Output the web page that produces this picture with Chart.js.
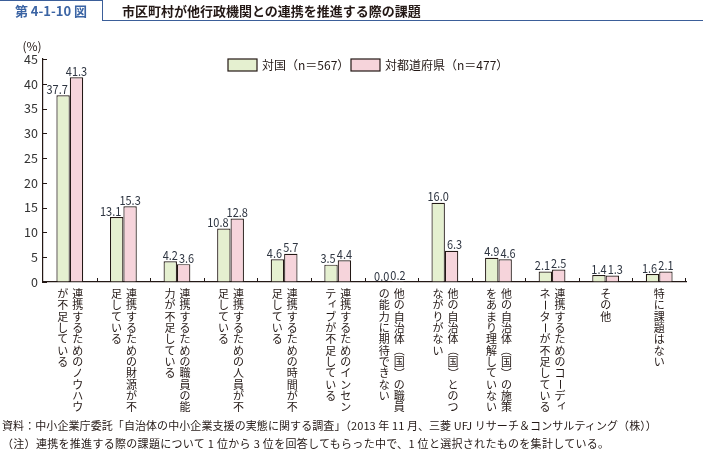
<!DOCTYPE html>
<html>
<head>
<meta charset="utf-8">
<script src="https://cdn.jsdelivr.net/npm/chart.js@4"></script>
<style>
  body { margin: 0; background: #fff; }
  #wrap { position: relative; width: 703px; height: 450px; overflow: hidden; font-family: "Noto Sans CJK JP", "Noto Sans", sans-serif; color: #231815; }
  #chart { position: absolute; left: 0; top: 0; }
  .figno { position: absolute; left: 0; top: 0; width: 103px; height: 21px; border-top: 1.5px solid #3b5e99; border-right: 1.5px solid #3b5e99; box-sizing: border-box; color: #3b64a4; font-weight: bold; font-size: 13px; line-height: 20px; text-align: center; }
  .rule { position: absolute; left: 102px; top: 20px; width: 601px; border-top: 1.5px solid #3b5e99; }
  .title { position: absolute; left: 122px; top: 2px; font-weight: bold; font-size: 13px; line-height: 18px; color: #231815; }
  .note { position: absolute; left: 2px; font-size: 11px; line-height: 16px; white-space: nowrap; }
</style>
</head>
<body>
<div id="wrap">
  <canvas id="chart" width="703" height="450"></canvas>
  <div class="figno">第 4-1-10 図</div>
  <div class="rule"></div>
  <div class="title">市区町村が他行政機関との連携を推進する際の課題</div>
  <div class="note" style="top:417px; letter-spacing:0.08px">資料：中小企業庁委託「自治体の中小企業支援の実態に関する調査」（2013 年 11 月、三菱 UFJ リサーチ＆コンサルティング（株））</div>
  <div class="note" style="top:435px; letter-spacing:0.3px">（注）連携を推進する際の課題について 1 位から 3 位を回答してもらった中で、1 位と選択されたものを集計している。</div>
</div>
<script>
// 縦書きラベル（右の列から順に）
const categories = [
    ['連携するためのノウハウ', 'が不足している'],
    ['連携するための財源が不', '足している'],
    ['連携するための職員の能', '力が不足している'],
    ['連携するための人員が不', '足している'],
    ['連携するための時間が不', '足している'],
    ['連携するためのインセン', 'ティブが不足している'],
    ['他の自治体（国）の職員', 'の能力に期待できない'],
    ['他の自治体（国）とのつ', 'ながりがない'],
    ['他の自治体（国）の施策', 'をあまり理解していない'],
    ['連携するためのコーディ', 'ネーターが不足している'],
    ['その他'],
    ['特に課題はない']
];
const seriesNames = ['対国（n＝567）', '対都道府県（n＝477）'];
const kuni = [37.7, 13.1, 4.2, 10.8, 4.6, 3.5, 0.0, 16.0, 4.9, 2.1, 1.4, 1.6];
const todofuken = [41.3, 15.3, 3.6, 12.8, 5.7, 4.4, 0.2, 6.3, 4.6, 2.5, 1.3, 2.1];
const yTicks = [0, 5, 10, 15, 20, 25, 30, 35, 40, 45];

const ink = '#231815';
const fills = ['#e5f0d0', '#f6d4db'];
const font = '"Noto Sans CJK JP", "Noto Sans", sans-serif';

const decorations = {
    id: 'decorations',
    afterDatasetsDraw(chart) {
        const ctx = chart.ctx;
        ctx.save();
        ctx.font = '12.5px ' + font;
        ctx.fillStyle = '#2f3642';
        ctx.textBaseline = 'bottom';
        ctx.textAlign = 'left';
        const all = chart.data.datasets.map(ds => ds.data);
        chart.data.datasets.forEach((ds, d) => {
            chart.getDatasetMeta(d).data.forEach((bar, i) => {
                const txt = ds.data[i].toFixed(1);
                const w = ctx.measureText(txt).width * 0.88;
                const other = all[1 - d][i];
                let left = bar.x - w / 2;
                if (d === 0 && other > ds.data[i]) left = bar.x + bar.width / 2 - w - 2;
                if (d === 1 && other > ds.data[i]) left = bar.x - bar.width / 2 + 2;
                ctx.fillText(txt, left, bar.y, w);
            });
        });
        ctx.restore();
    },
    afterDraw(chart) {
        const ctx = chart.ctx;
        const x = chart.scales.x, y = chart.scales.y;
        const area = chart.chartArea;
        ctx.save();
        ctx.strokeStyle = ink;
        ctx.lineWidth = 1;
        // inward tick marks
        yTicks.forEach(v => {
            const py = Math.round(y.getPixelForValue(v)) + 0.5;
            ctx.beginPath();
            ctx.moveTo(area.left, py);
            ctx.lineTo(area.left + 4, py);
            ctx.stroke();
        });
        for (let i = 1; i <= categories.length; i++) {
            const px = Math.round((x.getPixelForValue(i - 1) + x.getPixelForValue(i)) / 2) + 0.5;
            const pxx = i === categories.length ? Math.round(area.right) - 0.5 : px;
            ctx.beginPath();
            ctx.moveTo(pxx, area.bottom);
            ctx.lineTo(pxx, area.bottom - 4);
            ctx.stroke();
        }
        // unit
        ctx.fillStyle = ink;
        ctx.font = '12px ' + font;
        ctx.textAlign = 'center';
        ctx.textBaseline = 'middle';
        ctx.fillText('(%)', 32, 46);
        // legend
        const legendX = [228, 351];
        chart.data.datasets.forEach((ds, d) => {
            ctx.fillStyle = ds.backgroundColor;
            ctx.fillRect(legendX[d], 59, 29, 12);
            ctx.lineWidth = 1.2;
            ctx.strokeRect(legendX[d], 59, 29, 12);
            ctx.fillStyle = ink;
            ctx.textAlign = 'left';
            ctx.fillText(ds.label, legendX[d] + 34, 65.5);
        });
        // vertical category labels
        ctx.font = '11px ' + font;
        ctx.textAlign = 'center';
        ctx.textBaseline = 'middle';
        const rotated = 'ー（）';
        const small = 'ィッャュョ';
        categories.forEach((cols, i) => {
            const cx = x.getPixelForValue(i);
            cols.forEach((col, c) => {
                const colX = cols.length === 1 ? cx : cx + 8 - c * 15;
                [...col].forEach((ch, k) => {
                    const cy = 294 + k * 11.3;
                    if (rotated.includes(ch)) {
                        ctx.save();
                        ctx.translate(colX, cy);
                        ctx.rotate(Math.PI / 2);
                        ctx.fillText(ch, 0, 0);
                        ctx.restore();
                    } else if (small.includes(ch)) {
                        ctx.fillText(ch, colX + 2, cy - 2);
                    } else {
                        ctx.fillText(ch, colX, cy);
                    }
                });
            });
        });
        ctx.restore();
    }
};

new Chart(document.getElementById('chart').getContext('2d'), {
    type: 'bar',
    data: {
        labels: categories.map(c => c.join('')),
        datasets: [{
            label: seriesNames[0],
            data: kuni,
            backgroundColor: fills[0],
            borderColor: ink,
            borderWidth: 1.2
        }, {
            label: seriesNames[1],
            data: todofuken,
            backgroundColor: fills[1],
            borderColor: ink,
            borderWidth: 1.2
        }]
    },
    options: {
        responsive: false,
        devicePixelRatio: 1,
        animation: false,
        layout: { padding: { top: 59, right: 17, left: 0, bottom: 0 } },
        plugins: {
            legend: { display: false },
            tooltip: { enabled: false }
        },
        datasets: {
            bar: { categoryPercentage: 0.5, barPercentage: 1 }
        },
        scales: {
            x: {
                ticks: { display: false },
                grid: { display: false },
                border: { display: true, color: ink, width: 1.2 },
                afterFit: s => { s.height = 168; }
            },
            y: {
                min: 0,
                max: 45,
                ticks: { stepSize: 5, padding: 5, color: '#333', font: { family: font, size: 12.5 } },
                grid: { display: true, drawOnChartArea: false, drawTicks: false },
                border: { display: true, color: ink, width: 1.2 },
                afterFit: s => { s.width = 43; }
            }
        }
    },
    plugins: [decorations]
});
</script>
</body>
</html>
